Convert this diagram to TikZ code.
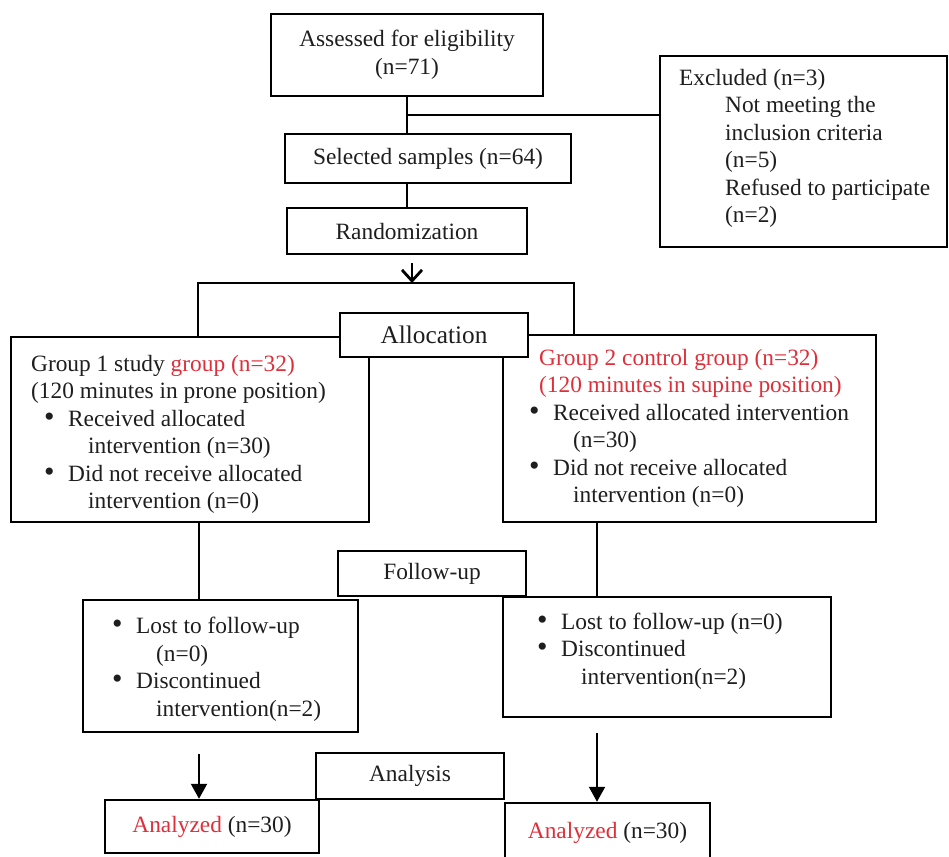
\documentclass[tikz,border=0pt]{standalone}
\usepackage{fontspec}
\setmainfont{Liberation Serif}
\usetikzlibrary{arrows.meta,calc}
\definecolor{txtred}{RGB}{222,48,58}
\definecolor{txtgray}{RGB}{30,30,30}
% bullet with optional indent, and the indent of a continued line
\newcommand{\bpt}[1][0cm]{\hspace*{#1}\makebox[0.48cm][l]{\fontsize{17}{15.65}\selectfont\textbullet}}
\newcommand{\bcont}[1][0cm]{\hspace*{\dimexpr #1+0.88cm\relax}}
\tikzset{
  box/.style={draw, line width=1.4pt, inner sep=1pt, align=center, fill=white},
  txt/.style={inner sep=0pt, align=left, anchor=west},
  link/.style={line width=1.2pt},
  arrow/.style={link, -{Triangle[length=3mm,width=3.2mm]}},
  openarrow/.style={line width=1.6pt, -{Straight Barb[length=2.2mm,width=4mm]}},
}
\begin{document}
\begin{tikzpicture}[x=0.02cm, y=-0.02cm, font=\fontsize{13.3}{15.65}\selectfont, text=txtgray]
            \useasboundingbox (0,0) rectangle (949,856);
            % enrolment
            \node [box, minimum width=5.44cm, minimum height=1.64cm] (assess) at (407,55) {Assessed for eligibility\\(n=71)};
            \node [box, minimum width=5.72cm, minimum height=0.98cm] (sel) at (428,158.5) {Selected samples (n=64)};
            \node [box, minimum width=4.8cm, minimum height=0.92cm] (rand) at (407,231) {Randomization};
            \node [box, minimum width=5.74cm, minimum height=3.82cm] (excl) at (803.5,151.5) {};
            \node [txt] (excltxt) at ($(excl.west)+(20,-3)$) {Excluded (n=3)\\
                \hspace*{0.92cm}Not meeting the\\ \hspace*{0.92cm}inclusion criteria\\ \hspace*{0.92cm}(n=5)\\
                \hspace*{0.92cm}Refused to participate\\ \hspace*{0.92cm}(n=2)};
            \coordinate (br) at ($(assess.south)!0.5!(assess.south |- sel.north)$);
            \draw [link] (assess.south) -- (assess.south |- sel.north);
            \draw [link] (br) -- (br -| excl.west);
            \draw [link] (rand.north |- sel.south) -- (rand.north);
            % allocation
            \node [box, minimum width=7.16cm, minimum height=3.7cm] (g1) at (190,429.5) {};
            \node [txt] (g1txt) at ($(g1.west)+(21,5)$) {Group 1 study \textcolor{txtred}{group (n=32)}\\
                (120 minutes in prone position)\\
                \bpt[0.26cm]Received allocated\\ \bcont[0.26cm]intervention (n=30)\\
                \bpt[0.26cm]Did not receive allocated\\ \bcont[0.26cm]intervention (n=0)};
            \node [box, minimum width=7.46cm, minimum height=3.74cm] (g2) at (689.5,428.5) {};
            \node [txt] (g2txt) at ($(g2.west)+(27,0)$) {\hspace*{0.2cm}\textcolor{txtred}{Group 2 control group (n=32)}\\
                \hspace*{0.2cm}\textcolor{txtred}{(120 minutes in supine position)}\\
                \bpt Received allocated intervention\\ \bcont(n=30)\\
                \bpt Did not receive allocated\\ \bcont intervention (n=0)};
            \node [box, minimum width=3.76cm, minimum height=0.88cm, font=\fontsize{14.4}{17}\selectfont] (alloc) at (434,335) {Allocation};
            \coordinate (split) at (412,283);
            \coordinate (sl) at (198,283);
            \coordinate (sr) at (574,283);
            \draw [openarrow] ($(rand.south -| split)+(0,8)$) -- (split);
            \draw [link] (sl |- g1.north) -- (sl) -- (sr) -- (sr |- g2.north);
            % follow-up
            \coordinate (colL) at (199,0);
            \coordinate (colR) at (597,0);
            \node [box, minimum width=5.5cm, minimum height=2.64cm] (lfu) at (220.5,666) {};
            \node [txt] (lfutxt) at ($(lfu.west)+(30,3)$) {\bpt Lost to follow-up\\ \bcont(n=0)\\
                \bpt Discontinued\\ \bcont intervention(n=2)};
            \node [box, minimum width=6.56cm, minimum height=2.4cm] (rfu) at (667,657) {};
            \node [txt] (rfutxt) at ($(rfu.west)+(35,-6)$) {\bpt Lost to follow-up (n=0)\\
                \bpt Discontinued\\ \bcont intervention(n=2)};
            \node [box, minimum width=3.76cm, minimum height=0.9cm] (fu) at (432,573.5) {Follow-up};
            \draw [link] (g1.south -| colL) -- (lfu.north -| colL);
            \draw [link] (g2.south -| colR) -- (rfu.north -| colR);
            % analysis
            \node [box, minimum width=4.28cm, minimum height=1.06cm] (la) at (212,826.5) {\textcolor{txtred}{Analyzed} (n=30)};
            \node [box, minimum width=4.1cm, minimum height=1.2cm] (ra) at (607.5,833) {\textcolor{txtred}{Analyzed} (n=30)};
            \node [box, minimum width=3.76cm, minimum height=0.92cm] (anal) at (410,776) {Analysis};
            \draw [arrow] ($(lfu.south -| colL)+(0,21)$) -- (la.north -| colL);
            \draw [arrow] ($(rfu.south -| colR)+(0,15)$) -- (ra.north -| colR);
        \end{tikzpicture}
\end{document}
